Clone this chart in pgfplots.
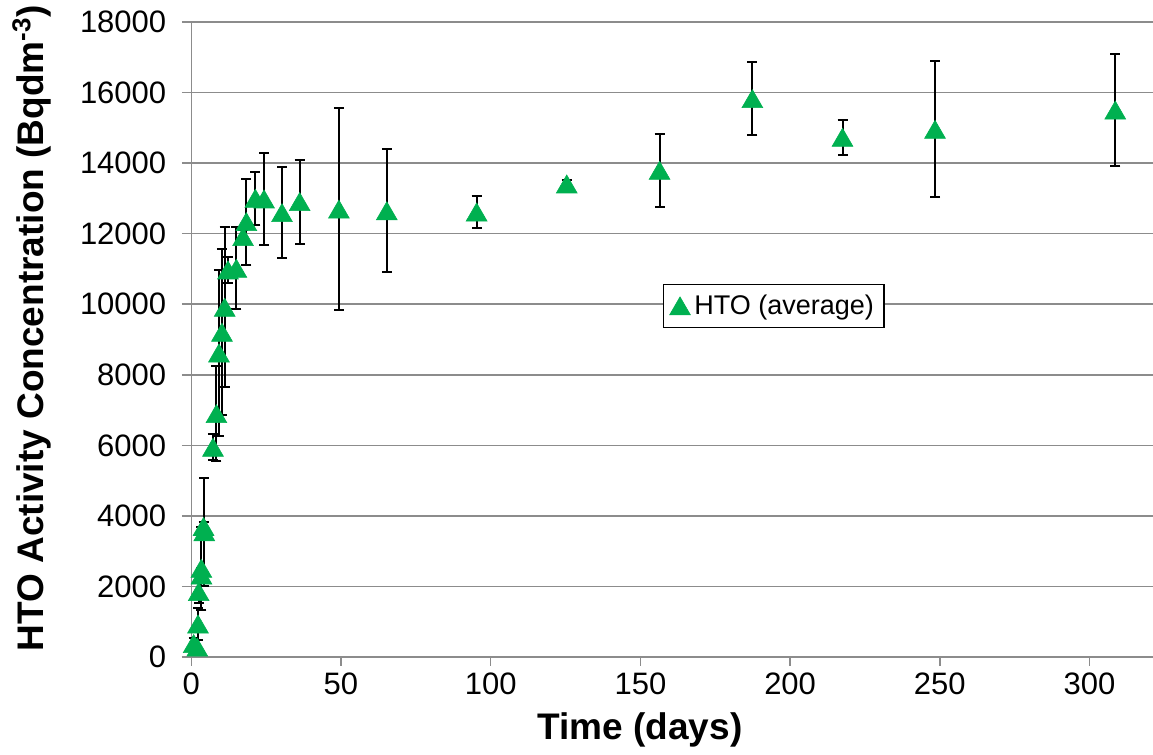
\documentclass[border=0pt]{standalone}
\usepackage{fontspec}
\setmainfont{Liberation Sans}
\usepackage{pgfplots}
\pgfplotsset{compat=1.18}
\usepackage{pgfplotstable}
\definecolor{xlgreen}{RGB}{0,176,80}
\definecolor{gridgray}{RGB}{140,140,140}

\pgfplotstableread{
x     y      ey
0.8   380    150
2.0   280    200
2.24  935    450
2.47  1852   330
3.37  2514   1180
3.40  2324   200
4.10  3700   140
4.35  3550   1530
7.25  5944   370
8.40  6897   1340
9.25  8617   2360
10.25 9204   2350
11.16 9913   2270
12.26 10970  370
15.06 11018  1162
17.3  11914  200
18.4  12340  1218
21.4  13002  747
24.3  12983  1300
30.3  12595  1299
36.2  12907  1186
49.3  12695  2858
65.3  12648  1743
95.3  12614  444
125.4 13408  100
156.4 13795  1040
187.4 15827  1044
217.5 14731  496
248.4 14957  1928
308.6 15504  1596
}\hto

\begin{document}
\begin{tikzpicture}
\begin{axis}[
  scale only axis, width=485.5pt, height=317.5pt,
  xmin=-3.1, xmax=321.2, ymin=0, ymax=18000,
  axis lines=center,
  axis line style={-, draw=gridgray, line width=0.75pt},
  hide obscured x ticks=false, hide obscured y ticks=false,
  xtick={0,50,...,300}, ytick={0,2000,...,18000},
  tick align=outside, major tick length=4.5pt,
  tick style={draw=gridgray, line width=0.75pt},
  ymajorgrids, grid style={draw=gridgray, line width=0.75pt},
  /pgf/number format/assume math mode=true,
  /pgf/number format/1000 sep={},
  scaled ticks=false,
  tick label style={font=\fontsize{15.5}{18}\selectfont},
  yticklabel style={xshift=-4.5pt},
  xlabel={Time (days)},
  ylabel={HTO Activity Concentration (Bqdm\textsuperscript{-3})},
  label style={font=\bfseries\fontsize{18.5}{22}\selectfont},
  xlabel style={at={(axis description cs:0.4717,-0.0866)}, anchor=north, inner sep=0pt},
  ylabel style={at={(axis description cs:-0.1751,0.518)}, rotate=90, anchor=north, inner sep=0pt},
  legend style={at={(axis description cs:0.4954,0.5874)}, anchor=north west, draw=black, line width=0.6pt,
    font=\fontsize{13.5}{16}\selectfont, inner xsep=3pt, inner ysep=3pt},
  legend cell align=left,
]
\addplot[only marks, mark=triangle*, mark size=6pt, color=xlgreen,
  mark options={fill=xlgreen, draw=xlgreen, line width=0.3pt, yshift=-1.5pt},
  error bars/.cd, y dir=both, y explicit,
  error bar style={black, line width=1pt},
  error mark options={rotate=90, mark size=2.5pt, black, line width=1pt}]
  table[x=x, y=y, y error=ey] {\hto};
\addlegendentry{HTO (average)}
\end{axis}
\pgfresetboundingbox
\path[use as bounding box] ([xshift=-91pt,yshift=-49pt]current axis.south west) rectangle ([yshift=11pt]current axis.north east);
\end{tikzpicture}
\end{document}
